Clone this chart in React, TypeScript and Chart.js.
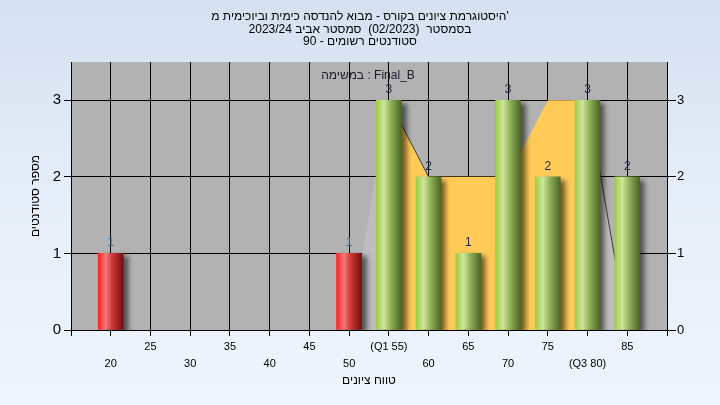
import { useEffect, useRef } from 'react';
import { Chart, registerables } from 'chart.js';

Chart.register(...registerables);

const FONT = "'Liberation Sans', Arial, sans-serif";

const titleLines = [
  "היסטוגרמת ציונים בקורס - מבוא להנדסה כימית וביוכימית מ'",
  'בסמסטר  (02/2023)  סמסטר אביב 2023/24',
  'סטודנטים רשומים - 90',
];
const legendText = 'במשימה : Final_B';
const xAxisTitle = 'טווח ציונים';
const yAxisTitle = 'מספר סטודנטים';

// bars outside the inter-quartile range (red)
const outsideX = [20, 50];
const outsideCounts = [1, 1];
// bars from Q1 upward (green)
const insideX = [55, 60, 65, 70, 75, 80, 85];
const insideCounts = [3, 2, 1, 3, 2, 3, 2];

// background polygon
const polygonX = [50, 55, 60, 65, 70, 75, 80, 85];
const polygonY = [0, 3, 2, 2, 2, 3, 3, 0];

const q1 = 55;
const q3 = 80;
const xMin = 15;
const xMax = 90;
const xStep = 5;
const yMax = 3.5;

function barGradient(ctx: any, stops: [number, string][], fallback: string) {
  const chart = ctx.chart;
  const xs = chart.scales && chart.scales.x;
  if (!xs || ctx.type !== 'data' || !ctx.raw) return fallback;
  const cx = xs.getPixelForValue(ctx.raw.x);
  if (!Number.isFinite(cx)) return fallback;
  const g = chart.ctx.createLinearGradient(cx - 12.5, 0, cx + 12.5, 0);
  stops.forEach(([o, c]) => g.addColorStop(o, c));
  return g;
}

const redStops: [number, string][] = [
  [0, '#ff1e1e'],
  [0.3, '#f27a7a'],
  [0.55, '#d03838'],
  [1, '#761010'],
];
const greenStops: [number, string][] = [
  [0, '#9ccc45'],
  [0.3, '#cfe69a'],
  [0.6, '#8cac55'],
  [1, '#4a6624'],
];

const pts = (xs: number[], ys: number[]) => xs.map((x, i) => ({ x, y: ys[i] }));
const polyPts = pts(polygonX, polygonY);

const decorPlugin = {
  id: 'decor',
  beforeDraw(chart: any) {
    const { ctx, chartArea: a } = chart;
    ctx.save();
    ctx.fillStyle = '#b2b2b2';
    ctx.fillRect(a.left, a.top, a.right - a.left, a.bottom - a.top);
    ctx.restore();
  },
  beforeDatasetDraw(chart: any, args: any) {
    const ctx = chart.ctx;
    ctx.save();
    if (args.meta.type === 'bar') {
      ctx.shadowColor = 'rgba(0,0,0,0.55)';
      ctx.shadowOffsetX = 5;
      ctx.shadowOffsetY = 3;
      ctx.shadowBlur = 5;
    }
  },
  afterDatasetDraw(chart: any) {
    chart.ctx.restore();
  },
  afterDatasetsDraw(chart: any) {
    const ctx = chart.ctx;
    ctx.save();
    ctx.font = `12px ${FONT}`;
    ctx.textAlign = 'center';
    ctx.textBaseline = 'alphabetic';
    chart.data.datasets.forEach((ds: any, di: number) => {
      if (ds.type !== 'bar') return;
      const meta = chart.getDatasetMeta(di);
      meta.data.forEach((el: any, i: number) => {
        ctx.fillStyle = di === 0 ? '#3a6a98' : '#1c2c44';
        ctx.fillText(String(ds.data[i].y), el.x, el.y - 7);
      });
    });
    ctx.restore();
  },
  afterDraw(chart: any) {
    const ctx = chart.ctx;
    ctx.save();
    ctx.fillStyle = '#000';
    ctx.textAlign = 'center';
    ctx.textBaseline = 'middle';
    ctx.font = `12px ${FONT}`;
    const ys = [17, 29.5, 41.5];
    titleLines.forEach((t, i) => ctx.fillText(t, 360, ys[i]));
    ctx.fillStyle = '#1a1a2a';
    ctx.fillText(legendText, 368, 76);
    ctx.restore();
  },
};

const keepIntegers = (scale: any) => {
  scale.ticks = scale.ticks.filter((t: any) => Number.isInteger(t.value));
};

export default function App() {
  const ref = useRef<HTMLCanvasElement>(null);

  useEffect(() => {
    if (!ref.current) return;
    Chart.defaults.font.family = FONT;
    const chart = new Chart(ref.current, {
      type: 'bar',
      data: {
        datasets: [
          {
            type: 'bar',
            data: pts(outsideX, outsideCounts),
            backgroundColor: (c: any) => barGradient(c, redStops, '#d03030'),
            borderWidth: 0,
            barThickness: 25,
            grouped: false,
            order: 0,
            yAxisID: 'y',
          },
          {
            type: 'bar',
            data: pts(insideX, insideCounts),
            backgroundColor: (c: any) => barGradient(c, greenStops, '#8cb850'),
            borderWidth: 0,
            barThickness: 25,
            grouped: false,
            order: 0,
            yAxisID: 'y',
          },
          {
            type: 'line',
            data: polyPts.filter((p) => p.x <= q1),
            fill: 'origin',
            backgroundColor: '#bdbdbd',
            borderColor: 'rgba(0,0,0,0)',
            borderWidth: 1,
            pointRadius: 0,
            tension: 0,
            order: 1,
            yAxisID: 'y',
          },
          {
            type: 'line',
            data: polyPts.filter((p) => p.x >= q1 && p.x <= q3),
            fill: 'origin',
            backgroundColor: '#ffca58',
            borderColor: 'rgba(0,0,0,0)',
            segment: {
              borderColor: (c: any) => (c.p0DataIndex === 0 ? '#3a3a3a' : 'rgba(0,0,0,0)'),
            },
            borderWidth: 1,
            pointRadius: 0,
            tension: 0,
            order: 1,
            yAxisID: 'y',
          },
          {
            type: 'line',
            data: polyPts.filter((p) => p.x >= q3),
            fill: 'origin',
            backgroundColor: '#bdbdbd',
            borderColor: '#3a3a3a',
            borderWidth: 1,
            pointRadius: 0,
            tension: 0,
            order: 1,
            yAxisID: 'y',
          },
        ] as any,
      },
      options: {
        animation: false,
        responsive: false,
        maintainAspectRatio: false,
        layout: { padding: { top: 62, left: 0, right: 0, bottom: 0 } },
        plugins: {
          legend: { display: false },
          tooltip: { enabled: false },
          title: { display: false },
        },
        scales: {
          x: {
            type: 'linear',
            min: xMin,
            max: xMax,
            offset: false,
            grid: { offset: false, color: '#000', lineWidth: 1, tickLength: 6, drawTicks: true },
            border: { display: true, color: '#000' },
            ticks: {
              stepSize: xStep,
              autoSkip: false,
              maxRotation: 0,
              minRotation: 0,
              padding: 2,
              color: '#000',
              font: { size: 11, lineHeight: '17px' as any },
              callback: (v: any) => {
                const n = Number(v);
                if (n === xMin || n === xMax) return '';
                const label = n === q1 ? '(Q1 55)' : n === q3 ? '(Q3 80)' : String(n);
                return (n / xStep) % 2 === 1 ? [label, ''] : ['', label];
              },
            },
            title: {
              display: true,
              text: xAxisTitle,
              color: '#000',
              font: { size: 12 },
              padding: { top: 0, bottom: 17 },
            },
            afterFit: (s: any) => {
              s.height = 75;
            },
          },
          y: {
            type: 'linear',
            position: 'left',
            min: 0,
            max: yMax,
            grid: { color: '#000', lineWidth: 1, tickLength: 7, drawTicks: true },
            border: { display: true, color: '#000' },
            ticks: { stepSize: 1, padding: 3, color: '#000', font: { size: 15 } },
            afterBuildTicks: keepIntegers,
            title: {
              display: true,
              text: yAxisTitle,
              color: '#000',
              font: { size: 12 },
              padding: { top: 28, bottom: 0 },
            },
            afterFit: (s: any) => {
              s.width = 71;
            },
          },
          y2: {
            type: 'linear',
            position: 'right',
            min: 0,
            max: yMax,
            grid: { drawOnChartArea: false, color: '#000', tickLength: 9, drawTicks: true },
            border: { display: true, color: '#000' },
            ticks: { stepSize: 1, padding: 1, color: '#000', font: { size: 13 } },
            afterBuildTicks: keepIntegers,
            afterFit: (s: any) => {
              s.width = 53;
            },
          },
        },
      } as any,
      plugins: [decorPlugin],
    });
    chart.update();
    return () => chart.destroy();
  }, []);

  return (
    <div
      style={{
        position: 'fixed',
        left: 0,
        top: 0,
        width: 720,
        height: 405,
        background: 'linear-gradient(to bottom, #d5e1f1 0%, #e6eef9 50%, #eef5fd 100%)',
      }}
    >
      <canvas ref={ref} width={720} height={405} style={{ display: 'block', width: 720, height: 405 }} />
    </div>
  );
}
